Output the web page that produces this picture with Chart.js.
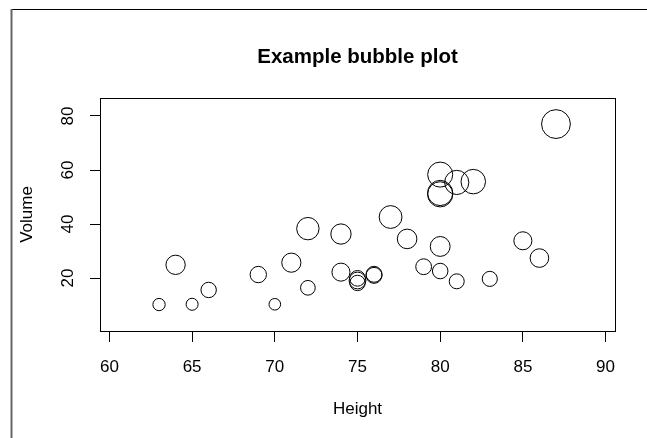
<!DOCTYPE html>
<html>
<head>
<meta charset="utf-8">
<script src="https://cdn.jsdelivr.net/npm/chart.js@4.4.1/dist/chart.umd.min.js"></script>
<style>
  html, body { margin: 0; padding: 0; background: #fff; }
  #wrap { width: 647px; height: 438px; }
</style>
</head>
<body>
<div id="wrap"><canvas id="grafico" width="647" height="438"></canvas></div>
<script>
// trees data: Height, Volume, Girth (bubble radius)
var height = [70, 65, 63, 72, 81, 83, 66, 75, 80, 75, 79, 76, 76, 69, 75, 74, 85, 86, 71, 64, 78, 80, 74, 72, 77, 81, 82, 80, 80, 80, 87];
var volume = [10.3, 10.3, 10.2, 16.4, 18.8, 19.7, 15.6, 18.2, 22.6, 19.9, 24.2, 21.0, 21.4, 21.3, 19.1, 22.2, 33.8, 27.4, 25.7, 24.9, 34.5, 31.7, 36.3, 38.3, 42.6, 55.4, 55.7, 58.3, 51.5, 51.0, 77.0];
var girth = [8.3, 8.6, 8.8, 10.5, 10.7, 10.8, 11.0, 11.0, 11.1, 11.2, 11.3, 11.4, 11.4, 11.7, 12.0, 12.9, 12.9, 13.3, 13.7, 13.8, 14.0, 14.2, 14.5, 16.0, 16.3, 17.3, 17.5, 17.9, 18.0, 18.0, 20.6];
var xTicks = [60, 65, 70, 75, 80, 85, 90];
var yTicks = [20, 40, 60, 80];
var titulo = 'Example bubble plot';

var fonte = "'Liberation Sans', Arial, sans-serif";
var escala = 0.7; // pixels per inch of girth

function exibirGrafico() {
	var pontos = [];
	for (var i = 0; i < height.length; i++) {
		pontos.push({ x: height[i], y: volume[i], r: girth[i] * escala });
	}

	var moldura = {
		id: 'moldura',
		beforeDraw: function (chart) {
			var c = chart.ctx;
			c.save();
			c.strokeStyle = '#000';
			c.lineWidth = 1;
			c.beginPath();
			c.moveTo(11, 9.5);
			c.lineTo(647, 9.5);
			c.stroke();
			c.strokeStyle = '#666';
			c.lineWidth = 2;
			c.beginPath();
			c.moveTo(11.5, 9);
			c.lineTo(11.5, 438);
			c.stroke();
			c.restore();
		},
		afterDraw: function (chart) {
			var a = chart.chartArea;
			var c = chart.ctx;
			c.save();
			c.strokeStyle = '#000';
			c.lineWidth = 1;
			c.strokeRect(a.left + 0.5, a.top + 0.5, a.right - a.left, a.bottom - a.top);
			// title centred over the plot box
			c.fillStyle = '#000';
			c.font = 'bold 20.5px ' + fonte;
			c.textAlign = 'center';
			c.textBaseline = 'middle';
			c.fillText(titulo, (a.left + a.right) / 2, 57);
			c.restore();
		}
	};

	var ctx = document.getElementById('grafico').getContext('2d');
	new Chart(ctx, {
		type: 'bubble',
		data: {
			datasets: [{
				data: pontos,
				backgroundColor: 'rgba(0,0,0,0)',
				borderColor: '#000',
				borderWidth: 1,
				hoverBorderWidth: 1,
				hoverRadius: 0
			}]
		},
		options: {
			responsive: false,
			animation: false,
			events: [],
			layout: { padding: { top: 98, right: 32, bottom: 0, left: 0 } },
			plugins: {
				legend: { display: false },
				tooltip: { enabled: false },
				title: { display: false }
			},
			scales: {
				x: {
					type: 'linear',
					min: 59.43,
					max: 90.57,
					afterBuildTicks: function (s) { s.ticks = xTicks.map(function (v) { return { value: v }; }); },
					afterFit: function (s) { s.height = 107; },
					grid: { drawOnChartArea: false, drawTicks: true, tickLength: 11, color: '#000' },
					border: { display: false },
					ticks: { color: '#000', font: { family: fonte, size: 17 }, padding: 15, maxRotation: 0 },
					title: { display: true, text: 'Height', color: '#000', font: { family: fonte, size: 17 }, padding: { top: 0, bottom: 18 } }
				},
				y: {
					type: 'linear',
					min: 0.41,
					max: 86.65,
					afterBuildTicks: function (s) { s.ticks = yTicks.map(function (v) { return { value: v }; }); },
					afterFit: function (s) { s.width = 100; },
					grid: { drawOnChartArea: false, drawTicks: true, tickLength: 10, color: '#000' },
					border: { display: false },
					ticks: { color: '#000', font: { family: fonte, size: 17 }, padding: 12.5, minRotation: 90, maxRotation: 90, crossAlign: 'center' },
					title: { display: true, text: 'Volume', color: '#000', font: { family: fonte, size: 17 }, padding: { top: 17, bottom: 0 } }
				}
			}
		},
		plugins: [moldura]
	});
}

exibirGrafico();
</script>
</body>
</html>
